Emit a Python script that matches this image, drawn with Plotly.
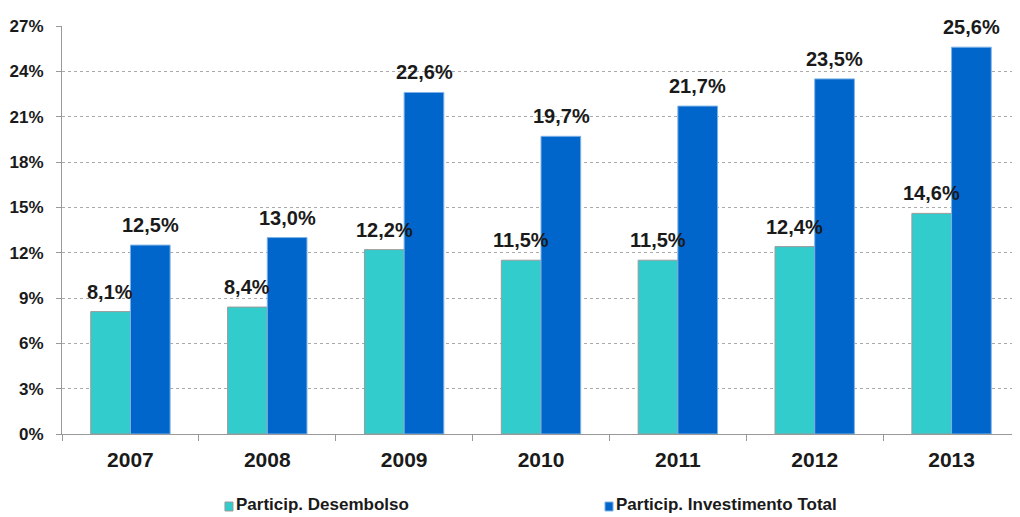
import plotly.graph_objects as go

years = ["2007", "2008", "2009", "2010", "2011", "2012", "2013"]
desembolso = [8.1, 8.4, 12.2, 11.5, 11.5, 12.4, 14.6]
investimento = [12.5, 13.0, 22.6, 19.7, 21.7, 23.5, 25.6]
series_names = ["Particip. Desembolso", "Particip. Investimento Total"]
y_ticks = [0, 3, 6, 9, 12, 15, 18, 21, 24, 27]

FONT = "Liberation Sans"
TXT = "#1a1a1a"
COLORS = ["#33CCCC", "#0066CC"]
EDGES = ["#9A9A9A", "#7FB2E5"]

def fmt(v):
    return f"{v:.1f}".replace(".", ",") + "%"

fig = go.Figure()
for name, vals, col, edge in zip(series_names, (desembolso, investimento), COLORS, EDGES):
    fig.add_trace(go.Bar(
        x=years, y=vals, name=name, showlegend=False,
        marker=dict(color=col, line=dict(color=edge, width=1)),
    ))

# data labels above each bar (x given as category index)
for vals, dx in ((desembolso, -20), (investimento, 20)):
    for i, v in enumerate(vals):
        fig.add_annotation(x=i, y=v, text=fmt(v), showarrow=False,
                           xanchor="center", yanchor="bottom", xshift=dx, yshift=7,
                           font=dict(family=FONT, size=20, color=TXT, weight="bold"))

# legend drawn below the plot (square key + text)
legend_pos = [(0.1701, 0.1785, 0.1795), (0.5668, 0.5752, 0.5762)]
for name, col, edge, (x0, x1, xt) in zip(series_names, COLORS, EDGES, legend_pos):
    fig.add_shape(type="rect", xref="paper", yref="paper",
                  x0=x0, x1=x1, y0=-0.1887, y1=-0.1667,
                  fillcolor=col, line=dict(color=edge, width=1))
    fig.add_annotation(xref="paper", yref="paper", x=xt, y=-0.174, text=name,
                       showarrow=False, xanchor="left", yanchor="middle",
                       font=dict(family=FONT, size=17, color=TXT, weight="bold"))

fig.update_layout(
    width=1012, height=509,
    margin=dict(l=54, r=0, t=18, b=83),
    paper_bgcolor="white", plot_bgcolor="white",
    barmode="group", bargap=0.42, bargroupgap=0,
    font=dict(family=FONT, color=TXT),
    showlegend=False,
    xaxis=dict(type="category", range=[-0.5, len(years) - 0.5],
               showline=True, linecolor="#999999", linewidth=1,
               automargin=False, tickangle=0, ticklabelstandoff=7,
               ticks="outside", tickson="boundaries", ticklen=6, tickcolor="#999999",
               tickfont=dict(size=21, weight="bold", color=TXT, family=FONT)),
    yaxis=dict(range=[0, 27], tickvals=y_ticks, ticktext=[f"{t}%" for t in y_ticks],
               showline=True, linecolor="#999999", linewidth=1, automargin=False,
               ticks="outside", ticklen=5, tickcolor="#999999", ticklabelstandoff=9,
               showgrid=True, gridcolor="#AAAAAA", griddash="dot", gridwidth=1,
               zeroline=False,
               tickfont=dict(size=17, weight="bold", color=TXT, family=FONT)),
)
fig.write_html("out.html")
